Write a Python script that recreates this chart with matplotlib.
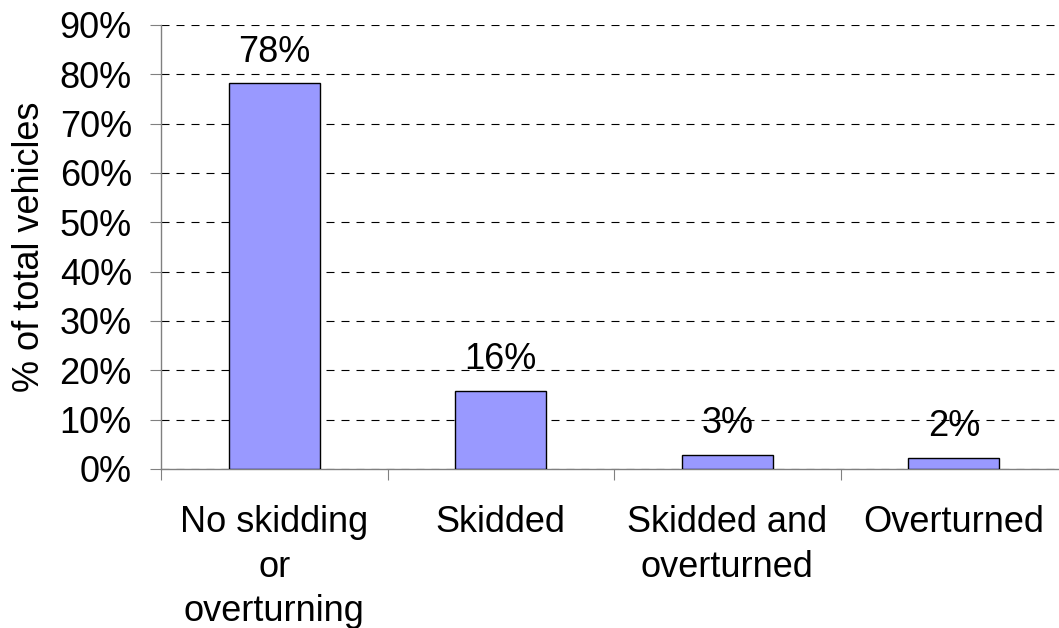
import matplotlib.pyplot as plt

plt.rcParams['font.family'] = ['Liberation Sans', 'DejaVu Sans']

# Vehicle outcome shares (percent of total vehicles)
categories = ["No skidding\nor\noverturning", "Skidded", "Skidded and\noverturned", "Overturned"]
shares = [78.2, 15.9, 2.9, 2.3]
y_ticks = [0, 10, 20, 30, 40, 50, 60, 70, 80, 90]

FS = 26

fig = plt.figure(figsize=(10.59, 6.28), dpi=100)
# axes right edge runs a little past the figure edge
ax = fig.add_axes([161 / 1059, 1 - 469 / 628, (1067 - 161) / 1059, (469 - 25) / 628])

x = range(len(categories))
ax.bar(x, shares, width=0.4, color='#9999FF', edgecolor='black', linewidth=1.0, zorder=3)

for xi, v in zip(x, shares):
    ax.text(xi, v + 4.3, f"{v:.0f}%", ha='center', va='baseline', fontsize=FS)

ax.set_xlim(-0.5, len(categories) - 0.5)
ax.set_ylim(0, 90)
ax.set_yticks(y_ticks)
ax.set_yticklabels([f"{t}%" for t in y_ticks], fontsize=FS)
ax.yaxis.grid(True, linestyle=(0, (7.2, 6.3)), color='black', linewidth=0.8, zorder=0)

ax.set_xticks([i - 0.5 for i in range(len(categories) + 1)])
ax.set_xticklabels([])
ax.set_xticks(list(x), minor=True)
ax.set_xticklabels(categories, minor=True, fontsize=FS, linespacing=1.35)
ax.tick_params(axis='x', which='minor', length=0, pad=26)
ax.tick_params(axis='x', which='major', direction='out', length=8, color='#808080')
ax.tick_params(axis='y', direction='out', length=8, color='#808080', pad=13)

for side in ['top', 'right']:
    ax.spines[side].set_visible(False)
for side in ['left', 'bottom']:
    ax.spines[side].set_color('#808080')
    ax.spines[side].set_linewidth(1.0)

ax.set_ylabel("% of total vehicles", fontsize=FS, labelpad=9)

fig.savefig("out.png", dpi=100)
